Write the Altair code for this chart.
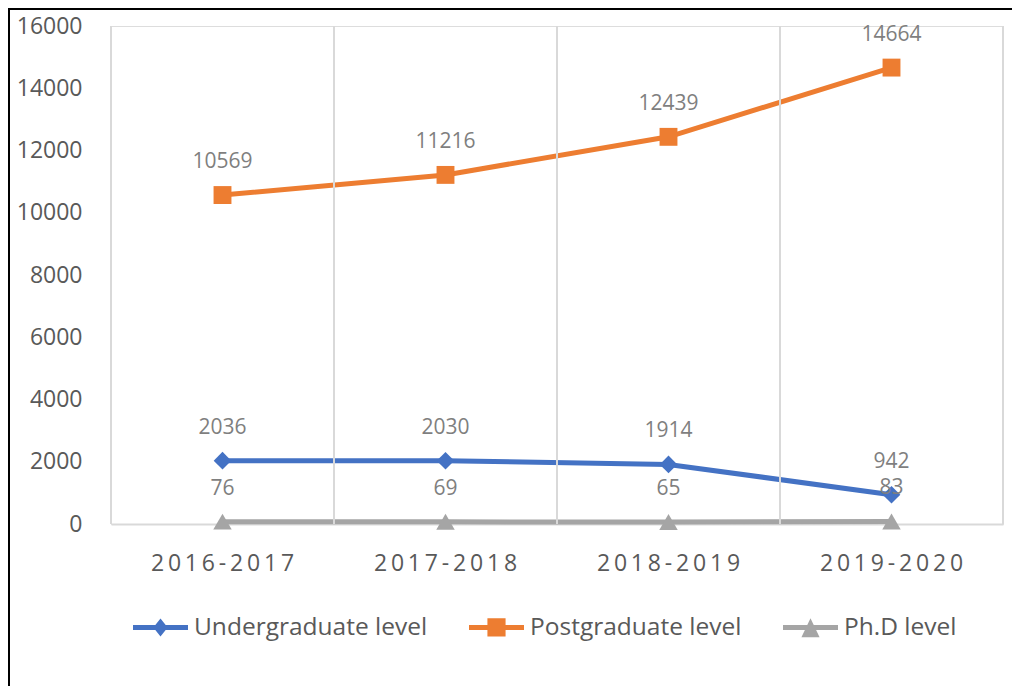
import altair as alt
import pandas as pd

years = ["2016-2017", "2017-2018", "2018-2019", "2019-2020"]
series = ["Undergraduate level", "Postgraduate level", "Ph.D level"]
undergrad = [2036, 2030, 1914, 942]
postgrad = [10569, 11216, 12439, 14664]
phd = [76, 69, 65, 83]
colors = ["#4472C4", "#ED7D31", "#A5A5A5"]
y_ticks = [0, 2000, 4000, 6000, 8000, 10000, 12000, 14000, 16000]

# category labels are shown letter-spaced (thin spaces)
year_labels = ["\u2009".join(y) for y in years]

rows = []
for s, vals in zip(series, [undergrad, postgrad, phd]):
    for yl, v in zip(year_labels, vals):
        rows.append({"year": yl, "series": s, "value": v})
df = pd.DataFrame(rows)

FONT = "Open Sans"
W, H = 892, 498

xscale = alt.Scale(type="band", domain=year_labels, paddingInner=0, paddingOuter=0)
yscale = alt.Scale(domain=[0, 16000], nice=False, zero=True)
cscale = alt.Scale(domain=series, range=colors)

leg_shapes = [
    "M-1,-0.09L1,-0.09L1,0.09L-1,0.09Z M0,-0.33L0.26,0L0,0.33L-0.26,0Z",
    "M-1,-0.09L1,-0.09L1,0.09L-1,0.09Z M-0.33,-0.34L0.33,-0.34L0.33,0.33L-0.33,0.33Z",
    "M-1,-0.09L1,-0.09L1,0.09L-1,0.09Z M0,-0.34L0.33,0.35L-0.33,0.35Z",
]
pt_shapes = ["diamond", "square", "triangle-up"]
pt_sizes = [310, 320, 340]

legend_props = dict(
    title=None, orient="none", direction="horizontal",
    legendX=22, legendY=574,
    symbolSize=3025, symbolStrokeWidth=0, symbolOpacity=1,
    labelFont=FONT, labelFontSize=24.5, labelColor="#595959",
    labelOffset=6, columnPadding=41, labelLimit=400,
)

xaxis = alt.Axis(
    title=None, labelAngle=0, ticks=False, grid=False,
    domain=True, domainColor="#D9D9D9", domainWidth=2,
    labelFont=FONT, labelFontSize=23, labelColor="#595959", labelPadding=28,
)
yaxis = alt.Axis(
    title=None, values=y_ticks, ticks=False, grid=False, domain=False, format="d",
    labelFont=FONT, labelFontSize=23, labelColor="#595959", labelPadding=29,
)

base = alt.Chart(df)

lines = base.mark_line(strokeWidth=5).encode(
    x=alt.X("year:N", scale=xscale, axis=xaxis),
    y=alt.Y("value:Q", scale=yscale, axis=yaxis),
    color=alt.Color("series:N", scale=cscale, legend=alt.Legend(**legend_props)),
)

grid = alt.Chart(pd.DataFrame({"year": year_labels})).mark_rule(
    color="#D9D9D9", strokeWidth=2
).encode(x=alt.X("year:N", scale=xscale, bandPosition=0))

grid_right = alt.Chart(pd.DataFrame({"year": year_labels[-1:]})).mark_rule(
    color="#D9D9D9", strokeWidth=2
).encode(x=alt.X("year:N", scale=xscale, bandPosition=1))

point_layers = []
for s, shp, sz in zip(series, pt_shapes, pt_sizes):
    point_layers.append(
        base.transform_filter(alt.datum.series == s)
        .mark_point(filled=True, opacity=1, shape=shp, size=sz)
        .encode(
            x=alt.X("year:N", scale=xscale),
            y=alt.Y("value:Q", scale=yscale),
            color=alt.Color("series:N", scale=cscale),
        )
    )

labels = base.mark_text(
    dy=-33, font=FONT, fontSize=21, color="#7F7F7F"
).encode(
    x=alt.X("year:N", scale=xscale),
    y=alt.Y("value:Q", scale=yscale),
    text=alt.Text("value:Q", format="d"),
)

legend_layer = base.mark_point(filled=True, opacity=0).encode(
    x=alt.X("year:N", scale=xscale),
    y=alt.Y("value:Q", scale=yscale),
    color=alt.Color("series:N", scale=cscale),
    shape=alt.Shape(
        "series:N", scale=alt.Scale(domain=series, range=leg_shapes),
        legend=alt.Legend(**legend_props),
    ),
)

border_left = alt.Chart(pd.DataFrame({"a": [0]})).mark_rule(
    color="black", strokeWidth=2
).encode(x=alt.value(-102), y=alt.value(-18), y2=alt.value(680))
border_top = alt.Chart(pd.DataFrame({"a": [0]})).mark_rule(
    color="black", strokeWidth=2
).encode(x=alt.value(-103), x2=alt.value(905), y=alt.value(-17))

chart = alt.layer(
    lines, grid, grid_right, *point_layers, labels, legend_layer,
    border_left, border_top,
).properties(
    width=W, height=H,
    autosize=alt.AutoSizeParams(type="none"),
    padding={"left": 103, "top": 18, "right": 9, "bottom": 162},
).configure_view(stroke=None).configure(background="white")

chart.save("out.html", embed_options={"renderer": "svg", "actions": False})
